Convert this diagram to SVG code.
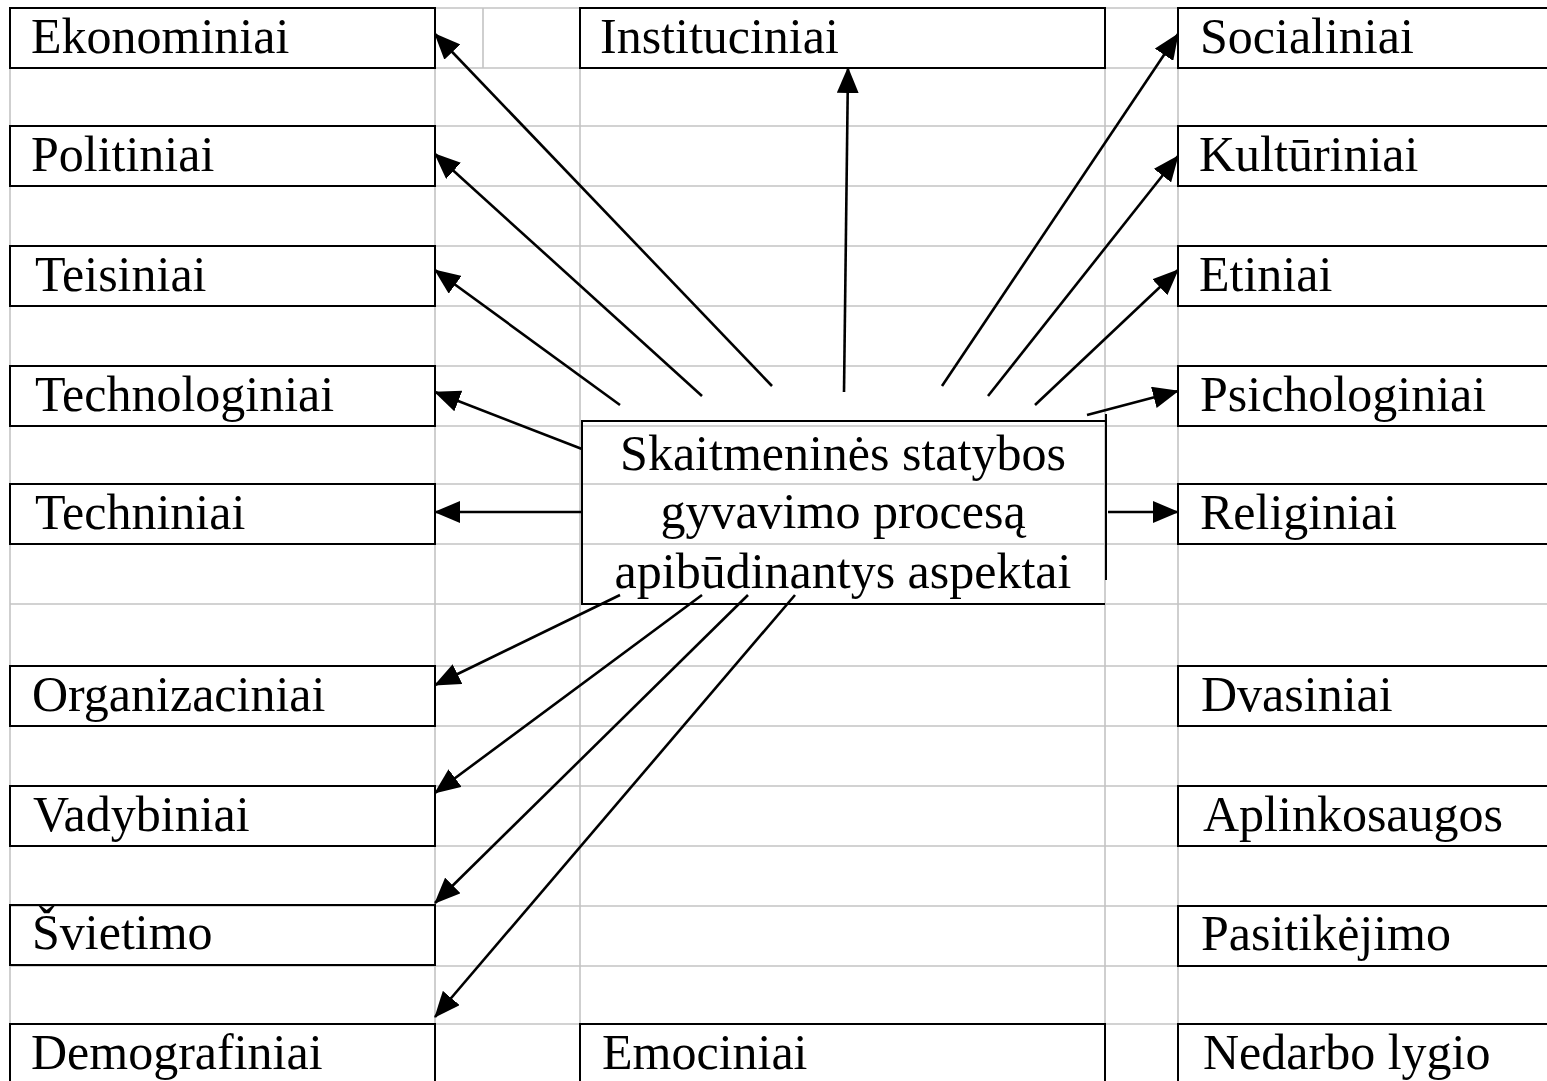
<svg xmlns="http://www.w3.org/2000/svg" width="1547" height="1081" viewBox="0 0 1547 1081">
<style>
.grid{stroke:#c4c4c4;stroke-width:1.6;fill:none}
.box{fill:none;stroke:#000;stroke-width:2}
text{font-family:'Liberation Serif','Times New Roman',serif;fill:#000}
.lbl{font-size:50px}
.ctr{font-size:50px;text-anchor:middle}
.arr{stroke:#000;stroke-width:2.6;fill:none;marker-end:url(#ah)}
</style>
<defs>
<marker id="ah" markerUnits="userSpaceOnUse" markerWidth="26" markerHeight="22" refX="25" refY="11" orient="auto">
<path d="M0,0 L26,11 L0,22 Z" fill="#000"/>
</marker>
</defs>
<rect width="1547" height="1081" fill="#fff"/>
<g id="grid" class="grid">
<path d="M10,8H1547M10,68H1547M10,126H1547M10,186H1547M10,246H1547M10,306H1547M10,366H1547M10,426H1547M10,484H1547M10,544H1547M10,604H1547M10,666H1547M10,726H1547M10,786H1547M10,846H1547M10,906H1547M10,966H1547M10,1024H1547"/>
<path d="M10,8V1081M435,8V1081M580,8V1081M1105,8V1081M1178,8V1081M483,8V68"/>
</g>
<g id="n-ekonominiai"><rect class="box" x="10" y="8" width="425" height="60"/><text class="lbl" x="31" y="53">Ekonominiai</text></g>
<g id="n-politiniai"><rect class="box" x="10" y="126" width="425" height="60"/><text class="lbl" x="31" y="171">Politiniai</text></g>
<g id="n-teisiniai"><rect class="box" x="10" y="246" width="425" height="60"/><text class="lbl" x="35" y="291">Teisiniai</text></g>
<g id="n-technologiniai"><rect class="box" x="10" y="366" width="425" height="60"/><text class="lbl" x="35" y="411">Technologiniai</text></g>
<g id="n-techniniai"><rect class="box" x="10" y="484" width="425" height="60"/><text class="lbl" x="35" y="529">Techniniai</text></g>
<g id="n-organizaciniai"><rect class="box" x="10" y="666" width="425" height="60"/><text class="lbl" x="32" y="711">Organizaciniai</text></g>
<g id="n-vadybiniai"><rect class="box" x="10" y="786" width="425" height="60"/><text class="lbl" x="33" y="831">Vadybiniai</text></g>
<g id="n-svietimo"><rect class="box" x="10" y="905" width="425" height="60"/><text class="lbl" x="32" y="949">Švietimo</text></g>
<g id="n-demografiniai"><rect class="box" x="10" y="1024" width="425" height="70"/><text class="lbl" x="31" y="1069">Demografiniai</text></g>
<g id="n-instituciniai"><rect class="box" x="580" y="8" width="525" height="60"/><text class="lbl" x="600" y="53">Instituciniai</text></g>
<g id="n-emociniai"><rect class="box" x="580" y="1024" width="525" height="70"/><text class="lbl" x="602" y="1069">Emociniai</text></g>
<g id="n-socialiniai"><rect class="box" x="1178" y="8" width="380" height="60"/><text class="lbl" x="1200" y="53">Socialiniai</text></g>
<g id="n-kulturiniai"><rect class="box" x="1178" y="126" width="380" height="60"/><text class="lbl" x="1199" y="171">Kultūriniai</text></g>
<g id="n-etiniai"><rect class="box" x="1178" y="246" width="380" height="60"/><text class="lbl" x="1199" y="291">Etiniai</text></g>
<g id="n-psichologiniai"><rect class="box" x="1178" y="366" width="380" height="60"/><text class="lbl" x="1200" y="411">Psichologiniai</text></g>
<g id="n-religiniai"><rect class="box" x="1178" y="484" width="380" height="60"/><text class="lbl" x="1200" y="529">Religiniai</text></g>
<g id="n-dvasiniai"><rect class="box" x="1178" y="666" width="380" height="60"/><text class="lbl" x="1201" y="711">Dvasiniai</text></g>
<g id="n-aplinkosaugos"><rect class="box" x="1178" y="786" width="380" height="60"/><text class="lbl" x="1203" y="831">Aplinkosaugos</text></g>
<g id="n-pasitikejimo"><rect class="box" x="1178" y="906" width="380" height="60"/><text class="lbl" x="1201" y="950">Pasitikėjimo</text></g>
<g id="n-nedarbo"><rect class="box" x="1178" y="1024" width="380" height="70"/><text class="lbl" x="1203" y="1069">Nedarbo lygio</text></g>
<g id="n-center">
<path class="box" d="M1105,421H582V604H1105M1106,414V580"/>
<text class="ctr" x="843" y="470">Skaitmeninės statybos</text>
<text class="ctr" x="843" y="528">gyvavimo procesą</text>
<text class="ctr" x="843" y="588">apibūdinantys aspektai</text>
</g>
<g id="connectors">
<line class="arr" x1="772" y1="386" x2="435" y2="34"/>
<line class="arr" x1="702" y1="396" x2="435" y2="154"/>
<line class="arr" x1="620" y1="405" x2="435" y2="270"/>
<line class="arr" x1="582" y1="449" x2="435" y2="392"/>
<line class="arr" x1="582" y1="512" x2="435" y2="512"/>
<line class="arr" x1="844" y1="392" x2="848" y2="68"/>
<line class="arr" x1="942" y1="386" x2="1178" y2="34"/>
<line class="arr" x1="988" y1="396" x2="1178" y2="156"/>
<line class="arr" x1="1035" y1="405" x2="1178" y2="270"/>
<line class="arr" x1="1087" y1="415" x2="1178" y2="391"/>
<line class="arr" x1="1108" y1="512" x2="1178" y2="512"/>
<line class="arr" x1="620" y1="595" x2="435" y2="685"/>
<line class="arr" x1="702" y1="595" x2="435" y2="793"/>
<line class="arr" x1="748" y1="595" x2="435" y2="903"/>
<line class="arr" x1="795" y1="595" x2="435" y2="1017"/>
</g>
</svg>
